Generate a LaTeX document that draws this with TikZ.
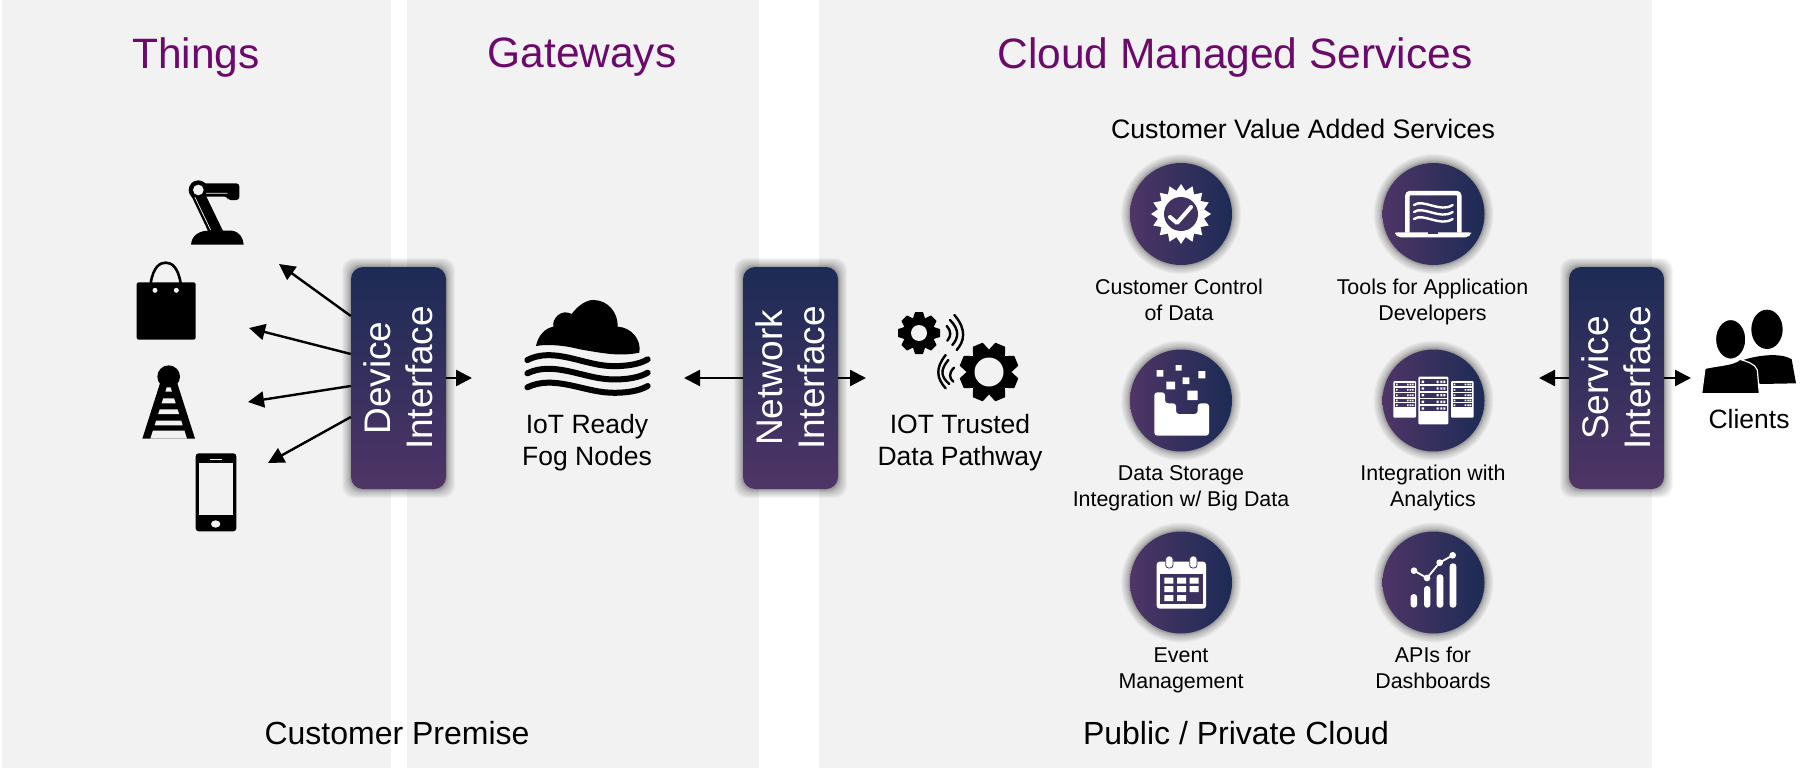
\documentclass[tikz,border=0pt]{standalone}
\usepackage{fontspec}
\usepackage{graphicx}
\setmainfont{Liberation Sans}
\usetikzlibrary{arrows.meta,calc}
\definecolor{panelgray}{HTML}{F2F2F2}
\definecolor{navy}{HTML}{1C2B55}
\definecolor{plum}{HTML}{4F3566}
\definecolor{titlepurple}{HTML}{6B0A6B}
\tikzset{
  panel/.style={fill=panelgray,draw=none},
  arr/.style={draw=black,line width=2.4pt,-{Triangle[length=16pt,width=16pt]}},
  ifacebox/.style={minimum width=95pt,minimum height=222pt,inner sep=0pt,rounded corners=12pt,
     top color=navy,bottom color=plum,text=white,draw=none,font=\fontsize{37}{42}\selectfont},
  svc/.style={circle,minimum size=102pt,inner sep=0pt,left color=plum,right color=navy,draw=none},
  titletext/.style={text=titlepurple,font=\fontsize{42.5}{50}\selectfont,inner sep=0pt},
  bigtext/.style={font=\fontsize{32}{38}\selectfont,inner sep=0pt},
  headtext/.style={font=\fontsize{26.7}{32}\selectfont,inner sep=0pt},
  midtext/.style={font=\fontsize{26.5}{32}\selectfont,align=center,inner sep=0pt},
  subtext/.style={font=\fontsize{21.4}{26}\selectfont,align=center,inner sep=0pt},
  wave/.style={draw=black,line width=6pt,line cap=round},
  sig/.style={draw=black,line width=2.4pt,line cap=round},
  zoomed/.style={x=0.33333pt,y=-0.33333pt},
}
\newcommand{\boxglow}[2]{%
  \foreach \g in {9,8,7,6,5,4,3,2.5,2,1.5,1,0.5}{
    \fill[black,opacity=0.036,rounded corners=12pt] (#1-47.5-\g,#2-111-\g) rectangle (#1+47.5+\g,#2+111+\g);
  }}
\newcommand{\circglow}[2]{%
  \foreach \g in {9,8,7,6,5,4,3,2.5,2,1.5,1,0.5}{
    \fill[black,opacity=0.036] (#1,#2) circle ({51+\g});
  }}
\newcommand{\ifacetext}[2]{\hspace*{10pt}\rotatebox{90}{\begin{tabular}{@{}c@{}}#1\\#2\end{tabular}}}
\newcommand{\gearicon}[6]{%
  \begin{scope}[shift={(#1,#2)}]
    \fill[black] (0,0) circle (#4);
    \foreach \a in {0,45,...,315}{
      \fill[black,rotate=\a+#6,line join=round,draw=black,line width=1pt]
        (-0.27*#3,-#4+1) -- (-0.17*#3,-#3+0.5) -- (0.17*#3,-#3+0.5) -- (0.27*#3,-#4+1) -- cycle;
    }
    \fill[panelgray] (0,0) circle (#5);
  \end{scope}}
\begin{document}
\begin{tikzpicture}[x=1pt,y=-1pt]
\useasboundingbox (0,0) rectangle (1807,768);
\fill[white] (0,0) rectangle (1807,768);
% panels
\fill[panel] (2,0) rectangle (391,768);
\fill[panel] (407,0) rectangle (759,768);
\fill[panel] (819,0) rectangle (1652,768);
% titles
\node[titletext] (tthings) at (196,57.5) {Things};
\node[titletext] (tgate) at (582,57.5) {Gateways};
\node[titletext] (tcloud) at (1235,57.5) {Cloud Managed Services};
\node[headtext] (tvalue) at (1303,128.5) {Customer Value Added Services};
\node[bigtext] (tprem) at (397,733) {Customer Premise};
\node[bigtext] (tpub) at (1236,733) {Public / Private Cloud};
% robot arm
\begin{scope}[shift={(100,150)},zoomed]
  \fill[black] (273,284) .. controls (275,255) and (300,242) .. (325,242) -- (395,242) .. controls (420,245) and (430,265) .. (431,284) -- cycle;
  \fill[black] (268,125) -- (325,245) -- (370,245) -- (312,125) -- cycle;
  \fill[black,rounded corners=3pt] (295,100) -- (418,100) -- (418,150) -- (383,150) -- (383,140) -- (295,140) -- cycle;
  \fill[black] (295,120) circle (29);
  \fill[panelgray] (295,120) circle (16);
  \draw[panelgray,line width=0.7pt] (285,142) -- (332,240) (318,130) -- (383,130);
\end{scope}
% bag
\begin{scope}[shift={(100,150)},zoomed]
  \draw[black,line width=2.6pt] (152,400) .. controls (160,350) and (180,338) .. (197,338) .. controls (214,338) and (234,350) .. (242,400);
  \fill[black,rounded corners=2pt] (110,397) rectangle (287,569);
  \fill[panelgray] (165,421) circle (7.5) (229,421) circle (7.5);
\end{scope}
% tower
\begin{scope}[shift={(100,150)},zoomed]
  \fill[black] (127,866) -- (180,700) -- (232,700) -- (285,866) -- cycle;
  \fill[black] (206,680) circle (34);
  \foreach \ya/\yb in {712/725,745/760,778/792,812/826,842/866}{
    \fill[panelgray] ({127+24+0.32*(866-\ya)},\ya) -- ({285-24-0.32*(866-\ya)},\ya)
       -- ({285-24-0.32*(866-\yb)},\yb) -- ({127+24+0.32*(866-\yb)},\yb) -- cycle;
  }
\end{scope}
% phone
\begin{scope}[shift={(100,150)},zoomed]
  \fill[black,rounded corners=3pt] (287,910) rectangle (409,1144);
  \fill[panelgray] (298,938) rectangle (398,1095);
  \fill[panelgray] (347,1122) ellipse (14 and 11);
  \draw[panelgray,line width=0.7pt] (330,928) -- (365,928);
\end{scope}
% cloud with waves
\begin{scope}[shift={(510,290)},zoomed]
  \fill[black] (78,168) .. controls (85,135) and (105,115) .. (130,110)
     .. controls (125,85) and (155,55) .. (185,72)
     .. controls (205,45) and (230,30) .. (250,30)
     .. controls (295,30) and (325,70) .. (323,110)
     .. controls (365,112) and (395,150) .. (388,188)
     .. controls (330,200) and (280,190) .. (210,178)
     .. controls (160,165) and (110,162) .. (78,168) -- cycle;
  \draw[wave] (52,210) .. controls (130,170) and (220,225) .. (300,228) .. controls (350,230) and (390,222) .. (413,208);
  \draw[wave] (52,250) .. controls (130,212) and (220,265) .. (300,268) .. controls (350,270) and (390,262) .. (413,248);
  \draw[wave] (52,292) .. controls (130,254) and (220,305) .. (300,308) .. controls (350,310) and (390,302) .. (413,288);
\end{scope}
\node[midtext] (fog) at (587,443.5) {IoT Ready\strut\\Fog Nodes\strut};
% gears
\gearicon{919}{333}{21}{15}{8}{0}
\gearicon{989}{372}{29.5}{22}{14.5}{22.5}
\begin{scope}[shift={(890,300)},zoomed]
  \draw[sig] (193,45) .. controls (232,90) and (222,125) .. (200,150);
  \draw[sig] (180,60) .. controls (210,90) and (205,115) .. (187,135);
  \draw[sig] (170,78) .. controls (185,95) and (183,108) .. (172,122);
  \draw[sig] (167,165) .. controls (135,205) and (140,235) .. (167,265);
  \draw[sig] (175,180) .. controls (150,210) and (152,230) .. (178,252);
  \draw[sig] (192,203) .. controls (175,220) and (178,235) .. (190,245);
\end{scope}
\node[midtext] (trust) at (960,443.5) {IOT Trusted\strut\\Data Pathway\strut};
% clients
\begin{scope}[shift={(1520,250)},zoomed]
  \fill[black] (741,238) ellipse (47 and 59);
  \fill[black] (665,332) .. controls (700,318) and (780,305) .. (815,328) -- (828,400) -- (720,402) -- cycle;
  \fill[black,draw=white,line width=1.5pt] (632,268) ellipse (46 and 60);
  \fill[black,draw=white,line width=1.2pt] (545,431) -- (555,355) .. controls (600,345) and (640,345) .. (660,328)
     .. controls (680,335) and (705,340) .. (712,360) -- (718,431) -- cycle;
\end{scope}
\node[midtext] (clients) at (1749,419.5) {Clients};
% interface boxes
\boxglow{398.5}{378}
\boxglow{790.5}{378}
\boxglow{1616.5}{378}
\node[ifacebox] (dev) at (398.5,378) {\ifacetext{Device}{Interface}};
\node[ifacebox] (net) at (790.5,378) {\ifacetext{Network}{Interface}};
\node[ifacebox] (srv) at (1616.5,378) {\ifacetext{Service}{Interface}};
% connector ends
\coordinate (thingA) at (279,264);
\coordinate (thingB) at (249,328);
\coordinate (thingC) at (248,402);
\coordinate (thingD) at (268,463);
\coordinate (devR) at (472,378);
\coordinate (netL) at (684,378);
\coordinate (netR) at (866,378);
\coordinate (srvL) at (1539,378);
\coordinate (srvR) at (1691,378);
\draw[arr] (dev.west |- 0,316) -- (thingA);
\draw[arr] (dev.west |- 0,354) -- (thingB);
\draw[arr] (dev.west |- 0,386) -- (thingC);
\draw[arr] (dev.west |- 0,417) -- (thingD);
\draw[arr] (dev.east) -- (devR);
\draw[arr] (net.west) -- (netL);
\draw[arr] (net.east) -- (netR);
\draw[arr] (srv.west) -- (srvL);
\draw[arr] (srv.east) -- (srvR);
% service circles
\circglow{1181}{214}\circglow{1433.5}{214}
\circglow{1181}{400.5}\circglow{1433.5}{400.5}
\circglow{1181}{582.5}\circglow{1433.5}{582.5}
\node[svc] (c1) at (1181,214) {};
\node[svc] (c2) at (1433.5,214) {};
\node[svc] (c3) at (1181,400.5) {};
\node[svc] (c4) at (1433.5,400.5) {};
\node[svc] (c5) at (1181,582.5) {};
\node[svc] (c6) at (1433.5,582.5) {};
\node[subtext] (l1) at (1179,302) {Customer Control\strut\\of Data\strut};
\node[subtext] (l2) at (1432.5,302) {Tools for Application\strut\\Developers\strut};
\node[subtext] (l3) at (1181,488) {Data Storage\strut\\Integration w/ Big Data\strut};
\node[subtext] (l4) at (1433,488) {Integration with\strut\\Analytics\strut};
\node[subtext] (l5) at (1181,670) {Event\strut\\Management\strut};
\node[subtext] (l6) at (1433,670) {APIs for\strut\\Dashboards\strut};
% badge icon
\begin{scope}[shift={(1181,214)}]
  \fill[white] (0:30) \foreach \k in {1,...,31}{ -- ({\k*11.25}:{mod(\k,2)==1 ? 23.5 : 30}) } -- cycle;
  \fill[plum!70!navy] (0,0) circle (17);
  \draw[white,line width=4pt,line cap=round,line join=round] (-11,3) -- (-4,9) -- (10,-7);
\end{scope}
% laptop icon
\begin{scope}[shift={(1380,160)},zoomed]
  \draw[white,line width=4.5pt,rounded corners=3pt] (82,218) -- (82,99) -- (238,99) -- (238,218);
  \fill[white,rounded corners=2pt] (45,217) -- (273,217) -- (273,223) -- (262,232) -- (56,232) -- (45,223) -- cycle;
  \fill[plum!55!navy] (145,217) rectangle (175,222);
  \foreach \d in {0,21,42}{
    \draw[white,line width=2.4pt,line cap=round] (102,{135+\d}) .. controls (130,{115+\d}) and (180,{160+\d}) .. (218,{135+\d});
  }
\end{scope}
% storage icon
\begin{scope}[shift={(1100,150)},zoomed]
  \fill[white,rounded corners=3pt] (163,727) -- (195,727) -- (195,760) -- (228,760) -- (228,792) -- (293,792) -- (293,760) -- (327,760) -- (327,857) -- (163,857) -- cycle;
  \fill[white] (170,660) rectangle (190,680) (227,645) rectangle (245,662) (248,682) rectangle (268,702)
     (295,663) rectangle (316,685) (199,695) rectangle (225,718) (262,722) rectangle (293,750);
\end{scope}
% server icon
\begin{scope}[shift={(1380,346)},zoomed]
  \fill[white,rounded corners=1pt] (115,92) rectangle (205,235);
  \fill[white,rounded corners=1pt] (40,105) rectangle (108,215);
  \fill[white,rounded corners=1pt] (213,105) rectangle (281,215);
  \foreach \y in {100,120,140,160,180}{
    \fill[plum!55!navy] (121,\y) rectangle (200,\y+15);
    \fill[white] (125,\y+4) rectangle (132,\y+11) (170,\y+4) rectangle (176,\y+11) (181,\y+4) rectangle (187,\y+11) (190,\y+4) rectangle (196,\y+11);
  }
  \foreach \y in {110,126,142,158,172}{
    \fill[plum!75!navy] (45,\y) rectangle (104,\y+11);
    \fill[white] (48,\y+3) rectangle (53,\y+8) (81,\y+3) rectangle (86,\y+8) (89,\y+3) rectangle (94,\y+8) (96,\y+3) rectangle (101,\y+8);
    \fill[plum!35!navy] (218,\y) rectangle (277,\y+11);
    \fill[white] (221,\y+3) rectangle (226,\y+8) (254,\y+3) rectangle (259,\y+8) (262,\y+3) rectangle (267,\y+8) (269,\y+3) rectangle (274,\y+8);
  }
\end{scope}
% calendar icon
\begin{scope}[shift={(1100,480)},zoomed]
  \fill[white,rounded corners=3pt] (170,245) rectangle (318,386);
  \fill[plum!60!navy] (179,283) rectangle (309,373);
  \foreach \x in {208,280}{
    \fill[white,draw=plum!60!navy,line width=0.8pt,rounded corners=3pt] (\x-11,228) rectangle (\x+11,264);
  }
  \fill[white] (193,293) rectangle (220,311) (231,293) rectangle (258,311) (269,293) rectangle (296,311)
     (193,318) rectangle (220,336) (231,318) rectangle (258,336) (269,318) rectangle (296,336)
     (193,345) rectangle (220,363) (231,345) rectangle (258,363);
\end{scope}
% chart icon
\begin{scope}[shift={(1100,480)},zoomed]
  \fill[white,rounded corners=3pt] (932,342) rectangle (951,383) (972,318) rectangle (991,383)
     (1010,283) rectangle (1030,383) (1049,250) rectangle (1069,383);
  \draw[white,line width=1.8pt] (942,272) -- (981,294) -- (1019,248) -- (1058,226);
  \fill[white] (942,272) circle (10) (981,294) circle (10) (1019,248) circle (10) (1058,226) circle (10);
\end{scope}
\end{tikzpicture}
\end{document}
